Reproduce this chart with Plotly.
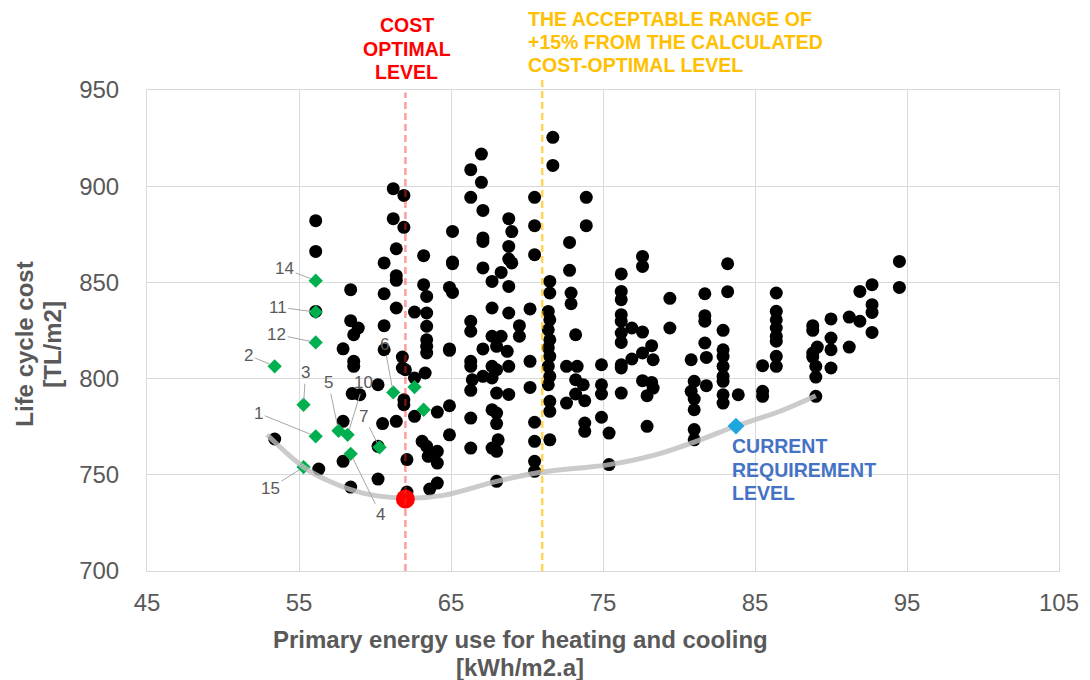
import plotly.graph_objects as go

# Design alternatives: primary energy use [kWh/m2.a] vs life cycle cost [TL/m2]
energy = [
    56.1, 61.2, 61.9, 61.2, 61.9, 61.4,
    56.1, 60.6, 61.4, 61.4, 60.6, 61.4, 63.2, 63.2, 63.4, 58.4, 56.1, 58.4, 58.9, 58.6,
    60.6, 62.6, 63.4, 63.4, 63.4, 63.4, 63.4, 63.3, 57.9, 58.6, 58.6, 60.6, 61.8, 61.8,
    62.0, 62.6, 60.2, 58.5, 59.0, 61.9, 61.9, 64.1, 62.6, 57.9, 60.5, 61.4, 53.4, 63.1,
    63.4, 64.1, 63.5, 64.1, 57.9, 56.3, 62.1, 60.2, 58.4, 62.1, 63.6, 64.1, 60.2,
    65.1, 65.1, 65.1, 64.9, 65.1, 64.9, 64.9, 64.9, 64.9,
    66.3, 67.0, 67.0, 66.3, 67.1, 67.1, 67.1, 67.1, 67.7, 68.3, 68.8, 69.0, 68.8, 68.8,
    69.0, 68.8, 68.8, 69.5, 69.5, 67.7, 66.3, 66.3, 67.1, 67.7, 68.3, 68.0, 68.7, 66.3,
    66.3, 67.1, 67.7, 68.0, 68.8, 66.4, 66.3, 67.7, 68.0, 68.8, 67.7, 68.0, 68.0, 66.3,
    66.3, 67.7, 68.1, 68.0, 68.0,
    70.2, 70.2, 70.2, 70.5, 70.5, 70.5, 70.5, 70.5, 70.5, 70.5,
    71.7, 71.7, 71.5, 71.5, 71.4, 71.5, 71.4, 71.5, 71.4, 71.5, 71.4, 71.5, 71.4, 71.5,
    71.5, 71.5,
    72.8, 72.8, 72.9, 72.9, 73.2, 72.6, 73.3, 73.2, 73.7, 73.2, 73.8, 72.6, 73.8, 73.8,
    73.9, 73.9,
    74.9, 74.9, 74.9, 74.9, 75.4, 75.4,
    76.2, 76.2, 76.2, 76.2, 76.2, 76.2, 76.2, 76.9, 77.6, 76.9, 76.2, 76.2, 76.2, 77.6,
    77.6, 78.2, 77.6, 78.3, 77.6, 78.2, 78.3, 77.9, 77.9,
    79.4, 79.4,
    80.8, 81.0, 80.8, 81.0, 81.0, 81.0, 81.0, 81.7, 81.7, 81.7, 81.7, 81.8, 81.8,
    82.9, 82.9, 82.9, 82.9, 82.9, 82.9, 82.9, 82.9, 83.2, 83.2, 83.9,
    85.5, 85.5, 85.5, 86.4, 86.4, 86.4, 86.4, 86.4, 86.4, 86.4, 86.4,
    88.8, 88.8, 88.8, 88.8, 89.1, 89.0, 89.0, 89.0, 90.0, 90.0, 90.0, 90.0, 91.2, 91.2,
    91.9, 91.9, 92.7, 92.7, 92.7, 92.7, 94.5, 94.5,
]
cost = [
    882.1, 898.7, 895.2, 883.1, 878.6, 867.5,
    866.1, 860.1, 853.5, 851.1, 844.1, 836.7, 863.9, 848.8, 842.7, 846.2, 834.9, 830.1, 826.3, 822.8,
    827.5, 834.6, 834.1, 827.2, 820.2, 816.8, 813.3, 802.9, 815.5, 809.0, 806.4, 815.0, 811.2, 805.5,
    804.6, 800.3, 796.8, 792.2, 791.6, 789.0, 786.4, 782.6, 780.4, 777.8, 776.6, 777.8, 768.6, 767.4,
    764.8, 762.2, 759.6, 756.1, 757.0, 753.0, 757.9, 747.8, 743.6, 741.0, 742.6, 745.7, 764.8,
    876.5, 860.6, 859.7, 847.4, 844.8, 815.4, 814.7, 785.9, 770.8,
    908.6, 916.7, 902.0, 894.2, 887.4, 873.1, 871.3, 857.5, 850.5, 855.2, 883.1, 876.4, 868.7, 862.1,
    860.1, 847.9, 834.1, 827.5, 822.0, 836.7, 829.8, 824.6, 815.4, 822.0, 822.0, 816.8, 814.2, 809.0,
    806.4, 801.2, 806.4, 804.6, 806.4, 799.4, 793.9, 800.3, 792.5, 791.8, 783.8, 782.1, 776.6, 779.5,
    763.9, 763.9, 768.2, 762.2, 746.6,
    836.2, 809.0, 795.4, 894.2, 879.5, 864.4, 777.3, 767.4, 757.0, 751.8,
    925.4, 910.8, 850.5, 844.5, 834.9, 830.6, 825.4, 820.2, 815.9, 811.6, 806.4, 801.2, 796.8, 788.2,
    783.0, 768.2,
    870.8, 856.3, 844.5, 838.9, 822.8, 806.4, 806.4, 799.4, 796.8, 792.0, 788.5, 787.3, 776.9, 772.6,
    894.2, 879.5,
    807.2, 796.8, 792.0, 779.9, 771.7, 755.3,
    854.4, 845.3, 841.0, 833.2, 829.8, 823.7, 818.8, 826.3, 824.2, 810.2, 807.2, 805.5, 792.5, 863.5,
    858.3, 817.1, 813.3, 809.8, 798.9, 798.0, 795.1, 791.1, 775.2,
    841.7, 826.3,
    809.8, 798.6, 793.4, 789.4, 783.8, 773.5, 768.2, 844.1, 832.7, 829.8, 818.5, 811.0, 796.3,
    825.1, 815.0, 811.6, 806.4, 801.2, 798.6, 791.6, 787.3, 859.7, 845.2, 791.6,
    806.7, 793.4, 790.8, 844.5, 835.0, 830.6, 826.3, 822.0, 819.4, 811.6, 806.4,
    827.5, 825.1, 813.3, 811.2, 816.4, 806.4, 800.8, 790.8, 831.0, 821.1, 815.0, 805.5, 832.0, 816.4,
    845.3, 829.8, 848.8, 838.4, 834.4, 824.0, 860.9, 847.4,
]

# Numbered reference cases
case_labels = ["14", "11", "12", "2", "3", "1", "15", "5", "10", "4", "7", "6", "", ""]
case_energy = [56.1, 56.1, 56.1, 53.4, 55.3, 56.1, 55.3, 57.6, 58.2, 58.4, 60.3, 61.2, 62.6, 63.2]
case_cost = [850.9, 834.6, 818.8, 806.4, 786.4, 770.0, 754.0, 772.9, 770.8, 760.9, 764.3, 792.8, 795.6, 783.8]
# label offsets (px) for the leader lines
label_dx = [-31, -38, -39, -26, 2, -57, -33, -10, 16, 30, -16, -9, 0, 0]
label_dy = [-12, -5, -8, -11, -32, -23, 21, -48, -52, 61, -31, -48, 0, 0]

# Cost-optimal front
front_energy = [52.9, 55.3, 57.0, 59.2, 62.0, 64.5, 68.0, 70.9, 75.4, 78.5, 81.0, 83.8, 86.6, 89.0]
front_cost = [770.8, 754.0, 746.6, 740.5, 737.9, 739.3, 746.6, 751.3, 755.3, 760.5, 767.0, 775.5, 782.9, 791.1]

optimum_energy, optimum_cost = 62.0, 737.4
current_energy, current_cost = 83.75, 775.3
acceptable_limit = 71.0

GRAY = "#595959"
FONT = "Liberation Sans, Arial, sans-serif"

fig = go.Figure()

fig.add_trace(go.Scatter(
    x=energy, y=cost, mode="markers",
    marker=dict(color="black", size=13, line=dict(width=0)),
    showlegend=False, hoverinfo="x+y",
))
fig.add_trace(go.Scatter(
    x=case_energy, y=case_cost, mode="markers",
    marker=dict(color="#00b050", size=11, symbol="diamond", line=dict(width=0)),
    showlegend=False,
))
fig.add_trace(go.Scatter(
    x=front_energy, y=front_cost, mode="lines",
    line=dict(color="rgba(190,190,190,0.8)", width=5, shape="spline", smoothing=1.0),
    showlegend=False, hoverinfo="skip",
))
fig.add_trace(go.Scatter(
    x=[optimum_energy], y=[optimum_cost], mode="markers",
    marker=dict(color="#ff0000", size=19, line=dict(width=0)),
    showlegend=False,
))
fig.add_trace(go.Scatter(
    x=[current_energy], y=[current_cost], mode="markers",
    marker=dict(color="#1fa6e0", size=13, symbol="diamond", line=dict(width=0)),
    showlegend=False,
))

# Reference verticals
fig.add_shape(type="line", xref="x", yref="paper", x0=optimum_energy, x1=optimum_energy,
              y0=0, y1=0.995, layer="above",
              line=dict(color="rgba(255,40,40,0.45)", width=2.5, dash="7px,4px"))
fig.add_shape(type="line", xref="x", yref="paper", x0=acceptable_limit, x1=acceptable_limit,
              y0=0, y1=1.027, layer="above",
              line=dict(color="rgba(255,192,0,0.65)", width=2.5, dash="7px,4px"))

annotations = []
for lab, xe, yc, dx, dy in zip(case_labels, case_energy, case_cost, label_dx, label_dy):
    if not lab:
        continue
    annotations.append(dict(
        x=xe, y=yc, xref="x", yref="y", text=lab, showarrow=True,
        ax=dx, ay=dy, arrowhead=0, arrowwidth=1, arrowcolor="#a6a6a6", standoff=5,
        font=dict(family=FONT, size=17, color=GRAY),
    ))

H = 481.0  # plot height in px
W = 912.0  # plot width in px
def py(p):
    return (571.3 - p) / H
def px(p):
    return (p - 147) / W

def text_lines(lines, x, y0, step, color, anchor, size=19.5, angle=0):
    for i, t in enumerate(lines):
        if angle:
            xx, yy = x + i * step, y0
        else:
            xx, yy = x, y0 - i * step
        annotations.append(dict(
            x=xx, y=yy, xref="paper", yref="paper", text=f"<b>{t}</b>",
            showarrow=False, xanchor=anchor, yanchor="middle", textangle=angle,
            font=dict(family=FONT, size=size, color=color),
        ))

text_lines(["COST", "OPTIMAL", "LEVEL"], px(406.7), py(25.5), 23.4 / H, "#ff0000", "center")
text_lines(["THE ACCEPTABLE RANGE OF", "+15% FROM THE CALCULATED", "COST-OPTIMAL LEVEL"],
           px(525.5), py(19), 23.3 / H, "#ffc000", "left")
text_lines(["CURRENT", "REQUIREMENT", "LEVEL"], px(729.5), py(446.5), 23.4 / H, "#4472c4", "left")

# Axis titles
text_lines(["Primary energy use for heating and cooling", "[kWh/m2.a]"],
           px(520), py(640), 27.5 / H, GRAY, "center", size=24)
text_lines(["Life cycle cost", "[TL/m2]"],
           px(25), py(345), 28.0 / W, GRAY, "center", size=24, angle=-90)

axis_common = dict(
    showgrid=True, gridcolor="#d9d9d9", gridwidth=1,
    showline=True, linecolor="#d9d9d9", linewidth=1, mirror=True,
    zeroline=False, ticks="outside", tickcolor="rgba(0,0,0,0)",
    tickfont=dict(family=FONT, size=24, color=GRAY),
)

fig.update_layout(
    width=1090, height=680,
    margin=dict(l=147, r=31, t=90, b=109),
    paper_bgcolor="white", plot_bgcolor="white",
    font=dict(family=FONT, color=GRAY),
    xaxis=dict(range=[45, 105], dtick=10, tick0=45, ticklen=10, **axis_common),
    yaxis=dict(range=[700, 950], dtick=50, ticklen=22, **axis_common),
    annotations=annotations,
    showlegend=False,
)

fig.write_html("out.html")
